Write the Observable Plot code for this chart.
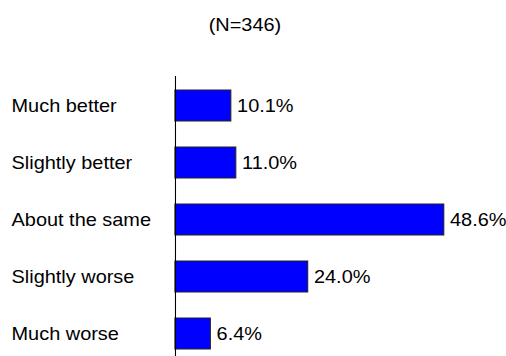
<!DOCTYPE html>
<html>
<head>
<meta charset="utf-8">
<script src="https://cdn.jsdelivr.net/npm/d3@7"></script>
<script src="https://cdn.jsdelivr.net/npm/@observablehq/plot@0.6"></script>
<style>
  html, body { margin: 0; padding: 0; background: #fff; overflow: hidden; }
  #outer { width: 506px; height: 356px; overflow: hidden; }
  #wrap { position: relative; width: 470px; height: 356px; font-family: "Liberation Sans", Arial, sans-serif;
          transform: scale(1.0766, 1); transform-origin: 0 0; }
  #title { position: absolute; top: 14px; left: 0; width: 455px; text-align: center; font-size: 18.5px; line-height: 22px; color: #000; }
</style>
</head>
<body>
<div id="outer">
<div id="wrap">
  <div id="title"></div>
</div>
</div>
<script>
const title = "(N=346)";
const categories = ["Much better", "Slightly better", "About the same", "Slightly worse", "Much worse"];
const values = [10.1, 11.0, 48.6, 24.0, 6.4];
const valueLabels = ["10.1%", "11.0%", "48.6%", "24.0%", "6.4%"];

const data = categories.map((c, i) => ({category: c, value: values[i], label: valueLabels[i]}));

document.getElementById("title").textContent = title;

const chart = Plot.plot({
  width: 470,
  height: 356,
  marginLeft: 162.5,
  marginRight: 0,
  marginTop: 76,
  marginBottom: 0,
  style: {fontFamily: "Liberation Sans, Arial, sans-serif", fontSize: "18.5px", color: "#000", background: "transparent"},
  x: {domain: [0, 50], range: [162.5, 419.4], axis: null},
  y: {domain: categories, range: [76, 362.5], paddingInner: 0.46, paddingOuter: 0.23, axis: null},
  marks: [
    Plot.barX(data, {y: "category", x: "value", fill: "#0000FF", stroke: "#222", strokeWidth: 1}),
    Plot.ruleX([0], {stroke: "#000", strokeWidth: 1}),
    Plot.text(data, {y: "category", text: "category", frameAnchor: "left", textAnchor: "start", dx: -152.3, fill: "#000", fontSize: 18.5}),
    Plot.text(data, {y: "category", x: "value", text: "label", textAnchor: "start", dx: 5.3, fill: "#000", fontSize: 18.5})
  ]
});
chart.style.position = "absolute";
chart.style.left = "0";
chart.style.top = "0";
document.getElementById("wrap").appendChild(chart);
</script>
</body>
</html>
